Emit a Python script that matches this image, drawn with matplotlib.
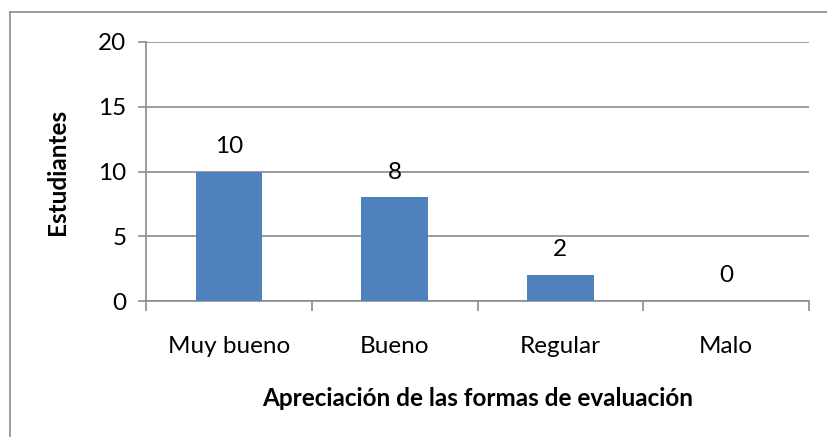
import matplotlib
matplotlib.use("Agg")
import matplotlib.pyplot as plt
from matplotlib.lines import Line2D

categories = ["Muy bueno", "Bueno", "Regular", "Malo"]
values = [10, 8, 2, 0]
yticks = [0, 5, 10, 15, 20]
xlabel = "Apreciación de las formas de evaluación"
ylabel = "Estudiantes"

plt.rcParams['font.family'] = ['Lato', 'DejaVu Sans']

W, H = 827, 437
FS = 17.5
fig = plt.figure(figsize=(W/100, H/100), dpi=100)
ax = fig.add_axes([146/W, 1-301/H, (809-146)/W, (301-42)/H])

grid_c = "#8c8c8c"
x = list(range(len(categories)))
ax.bar(x, values, width=0.4, color="#4f81bd", zorder=3)
for xi, v in zip(x, values):
    ax.annotate(str(v), (xi, v), xytext=(0, 13.5), textcoords="offset points",
                ha="center", va="baseline", fontsize=FS, color="black")

ax.set_xlim(-0.5, len(categories)-0.5)
ax.set_ylim(0, 20)
ax.set_yticks(yticks)
ax.set_yticklabels([str(t) for t in yticks], fontsize=FS)
ax.yaxis.grid(True, color=grid_c, linewidth=1.2, zorder=0)
ax.set_axisbelow(True)

ax.set_xticks([i + 0.5 for i in range(-1, len(categories))])
ax.set_xticklabels([])
ax.set_xticks(x, minor=True)
ax.set_xticklabels(categories, minor=True, fontsize=FS)
ax.tick_params(axis='x', which='major', length=7, color=grid_c, width=1.2, direction='out')
ax.tick_params(axis='x', which='minor', length=0, pad=25.5)
ax.tick_params(axis='y', length=6, color=grid_c, width=1.2, pad=8)

for s in ["top", "right"]:
    ax.spines[s].set_visible(False)
for s in ["left", "bottom"]:
    ax.spines[s].set_color(grid_c)
    ax.spines[s].set_linewidth(1.2)

ax.set_xlabel(xlabel, fontsize=FS, fontweight='bold', labelpad=21)
ax.set_ylabel(ylabel, fontsize=FS, fontweight='bold', labelpad=21)

# outer chart border (left and top visible)
fig.add_artist(Line2D([9.5/W, 9.5/W], [0, 1-12/H], transform=fig.transFigure, color="#8c8c8c", linewidth=1.2))
fig.add_artist(Line2D([9.5/W, 1], [1-12/H, 1-12/H], transform=fig.transFigure, color="#8c8c8c", linewidth=1.2))

fig.savefig("out.png", dpi=100)
